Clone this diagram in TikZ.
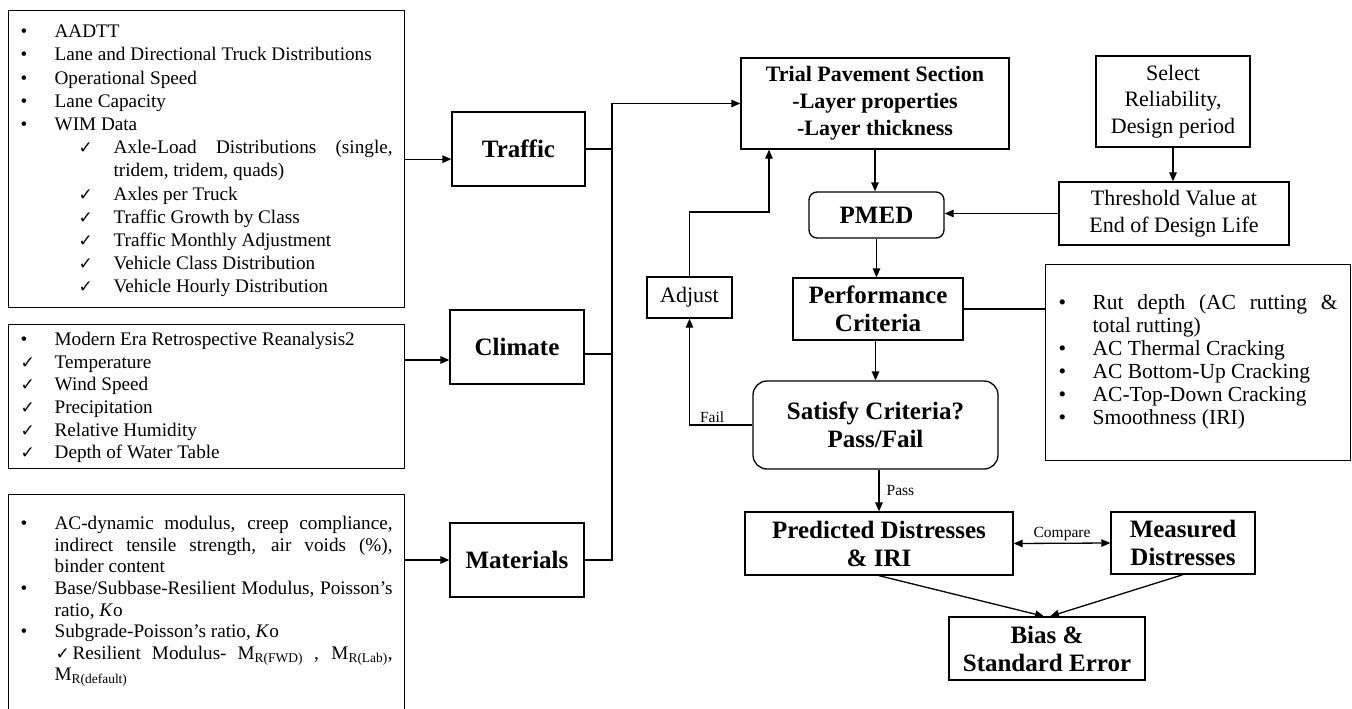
\documentclass[tikz,border=0pt]{standalone}
\usepackage{fontspec}
\setmainfont{Liberation Serif}
\newfontfamily\symf{DejaVu Sans}
\usetikzlibrary{arrows.meta,positioning}
% list rows: offset, marker width, marker, text
\newcommand\chk{{\symf\fontsize{17}{17}\selectfont ✓}}
\newcommand\rowl[4]{\hbox to\linewidth{\strut\hspace*{#1}\makebox[#2][l]{#3}#4\hfil}}
\newcommand\rowj[4]{\hbox to\linewidth{\strut\hspace*{#1}\makebox[#2][l]{#3}\makebox[\dimexpr\linewidth-#1-#2\relax][s]{#4}}}
\begin{document}
\begin{tikzpicture}[x=1pt,y=-1pt,line width=1.3pt,
  box/.style={draw,inner sep=0pt,align=center},
  hd/.style={font=\fontsize{25}{28}\selectfont\bfseries},
  hdsm/.style={font=\fontsize{22}{27}\selectfont\bfseries},
  txt/.style={font=\fontsize{22}{26.5}\selectfont},
  lbl/.style={font=\fontsize{15.5}{18}\selectfont,inner sep=2pt},
  listbox/.style={draw,inner xsep=12pt,inner ysep=0pt,anchor=north west},
  arr/.style={-{Triangle[length=9pt,width=7.5pt]}}]
\useasboundingbox (0,0) rectangle (1352,709);
\clip (0,0) rectangle (1352,709);

% input lists
\node[listbox,font=\fontsize{19.2}{23.2}\selectfont] (trafL) at (8,10) {\parbox[c][297pt][t]{372pt}{\vspace*{10.8pt}
  \rowl{0pt}{34pt}{\textbullet}{AADTT}
  \rowl{0pt}{34pt}{\textbullet}{Lane and Directional Truck Distributions}
  \rowl{0pt}{34pt}{\textbullet}{Operational Speed}
  \rowl{0pt}{34pt}{\textbullet}{Lane Capacity}
  \rowl{0pt}{34pt}{\textbullet}{WIM Data}
  \rowj{58pt}{35pt}{\chk}{Axle-Load Distributions (single,}
  \rowl{93pt}{0pt}{}{tridem, tridem, quads)}
  \rowl{58pt}{35pt}{\chk}{Axles per Truck}
  \rowl{58pt}{35pt}{\chk}{Traffic Growth by Class}
  \rowl{58pt}{35pt}{\chk}{Traffic Monthly Adjustment}
  \rowl{58pt}{35pt}{\chk}{Vehicle Class Distribution}
  \rowl{58pt}{35pt}{\chk}{Vehicle Hourly Distribution}}};
\node[listbox,font=\fontsize{19.2}{22.6}\selectfont] (climL) at (8,324) {\parbox[c][144pt][t]{372pt}{\vspace*{5.2pt}
  \rowl{0pt}{34pt}{\textbullet}{Modern Era Retrospective Reanalysis2}
  \rowl{0pt}{34pt}{\chk}{Temperature}
  \rowl{0pt}{34pt}{\chk}{Wind Speed}
  \rowl{0pt}{34pt}{\chk}{Precipitation}
  \rowl{0pt}{34pt}{\chk}{Relative Humidity}
  \rowl{0pt}{34pt}{\chk}{Depth of Water Table}}};
\node[listbox,font=\fontsize{19.2}{21.6}\selectfont] (matL) at (8,494) {\parbox[c][230pt][t]{372pt}{\vspace*{19.9pt}
  \rowj{0pt}{34pt}{\textbullet}{AC-dynamic modulus, creep compliance,}
  \rowj{34pt}{0pt}{}{indirect tensile strength, air voids (\%),}
  \rowl{34pt}{0pt}{}{binder content}
  \rowj{0pt}{34pt}{\textbullet}{Base/Subbase-Resilient Modulus, Poisson’s}
  \rowl{34pt}{0pt}{}{ratio, \textit{K}o}
  \rowl{0pt}{34pt}{\textbullet}{Subgrade-Poisson’s ratio, \textit{K}o}
  \rowj{35pt}{17pt}{\chk}{Resilient Modulus- M\textsubscript{R(FWD)} , M\textsubscript{R(Lab)},}
  \rowl{34pt}{0pt}{}{M\textsubscript{R(default)}}}};

% input boxes
\node[box,hd,minimum width=133pt,minimum height=74pt] (traffic) at (518.5,149) {Traffic};
\node[box,hd,minimum width=134pt,minimum height=74pt] (climate) at (517,347) {Climate};
\node[box,hd,minimum width=134pt,minimum height=74pt] (materials) at (517,560) {Materials};

% design loop
\node[box,hdsm,minimum width=268pt,minimum height=91pt] (trial) at (875,103.5) {Trial Pavement Section\\-Layer properties\\-Layer thickness};
\node[box,txt,minimum width=154pt,minimum height=91pt] (select) at (1173,101.5) {Select\\Reliability,\\Design period};
\node[box,txt,minimum width=230pt,minimum height=63pt] (thresh) at (1174,213.5) {Threshold Value at\\End of Design Life};
\node[box,hd,rounded corners=8pt,minimum width=135pt,minimum height=46pt] (pmed) at (876.5,215) {PMED};
\node[box,hd,minimum width=170pt,minimum height=62pt] (perf) at (878,309) {Performance\\Criteria};
\node[listbox,font=\fontsize{21.5}{23}\selectfont,inner xsep=13pt] (rutL) at (1045,264) {\parbox[c][196pt][t]{279pt}{\vspace*{28.9pt}
  \rowj{0pt}{34pt}{\textbullet}{Rut depth (AC rutting \&}
  \rowl{34pt}{0pt}{}{total rutting)}
  \rowl{0pt}{34pt}{\textbullet}{AC Thermal Cracking}
  \rowl{0pt}{34pt}{\textbullet}{AC Bottom-Up Cracking}
  \rowl{0pt}{34pt}{\textbullet}{AC-Top-Down Cracking}
  \rowl{0pt}{34pt}{\textbullet}{Smoothness (IRI)}}};
\node[box,txt,minimum width=85pt,minimum height=41pt] (adjust) at (689.5,297.5) {Adjust};
\node[box,hd,rounded corners=14pt,minimum width=245pt,minimum height=88pt] (satisfy) at (875.5,425) {Satisfy Criteria?\\Pass/Fail};
\node[box,hd,minimum width=268pt,minimum height=63pt] (pred) at (879,543.5) {Predicted Distresses\\\& IRI};
\node[box,hd,minimum width=144pt,minimum height=62pt] (meas) at (1183,543) {Measured\\Distresses};
\node[box,hd,minimum width=196pt,minimum height=63pt] (bias) at (1047,648.5) {Bias \&\\Standard Error};

% connectors
\coordinate (bus) at (612,103.5);
\coordinate (climIn) at ([yshift=-13pt]climate.west);
\coordinate (climOut) at ([yshift=-7pt]climate.east);
\coordinate (adjTurn) at (769,212);
\draw[arr] (trafL.east) -- (trafL.east -| traffic.west);
\draw[arr] (climIn -| climL.east) -- (climIn);
\draw[arr] (materials.west -| matL.east) -- (materials.west);
\draw (traffic.east) -- (traffic.east -| bus);
\draw (climOut) -- (climOut -| bus);
\draw[arr] (materials.east) -| (bus) -- (trial.west);
\draw[arr] (trial.south) -- (trial.south |- pmed.north);
\draw[arr] (select.south) -- (select.south |- thresh.north);
\draw[arr] (thresh.west) -- (thresh.west -| pmed.east);
\draw[arr] (pmed.south) -- (pmed.south |- perf.north);
\draw (perf.east) -- (perf.east -| rutL.west);
\draw[arr] (satisfy.north |- perf.south) -- (satisfy.north);
\draw[arr] (satisfy.west) -| node[lbl,pos=0.32,above] {Fail} (adjust.south);
\draw[arr] (adjust.north) |- (adjTurn) -- (adjTurn |- trial.south);
\draw[arr] (pred.north |- satisfy.south) -- node[lbl,right=5pt] {Pass} (pred.north);
\draw[{Triangle[length=9pt,width=7.5pt]}-{Triangle[length=9pt,width=7.5pt]}] (pred.east) -- node[lbl,above] {Compare} (meas.west);
\draw[arr] (pred.south) -- ([xshift=-3pt]bias.north);
\draw[arr] (meas.south) -- ([xshift=3pt]bias.north);
\end{tikzpicture}
\end{document}
